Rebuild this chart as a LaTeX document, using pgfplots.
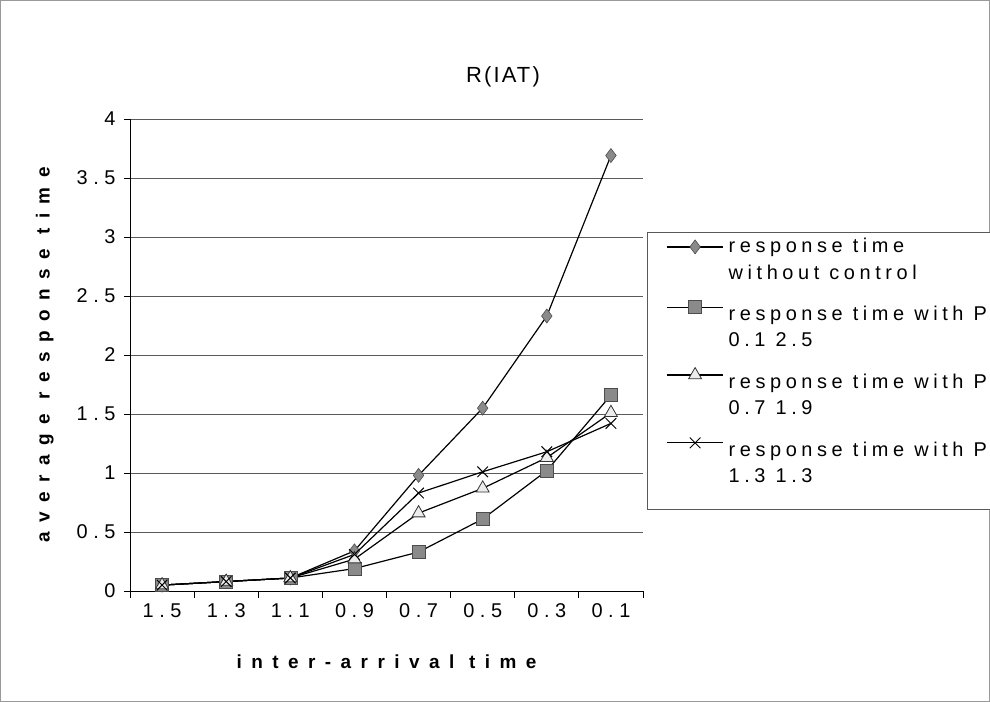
\documentclass[border=0pt]{standalone}
\usepackage{pgfplots}
\pgfplotsset{compat=1.18}
\usepackage{fontspec}
\setmainfont{Liberation Sans}
\newfontfamily\tickfont[LetterSpace=28]{Liberation Sans}
\newfontfamily\legfont[LetterSpace=23]{Liberation Sans}
\newfontfamily\labfont[LetterSpace=50]{Liberation Sans Bold}
\newfontfamily\titfont[LetterSpace=10]{Liberation Sans}

% average response time versus inter-arrival time (x index 0..7 = IAT 1.5 ... 0.1)
\pgfplotstableread{
x y
0 0.05
1 0.08
2 0.11
3 0.34
4 0.98
5 1.55
6 2.33
7 3.69
}\nocontrol
\pgfplotstableread{
x y
0 0.05
1 0.08
2 0.11
3 0.19
4 0.33
5 0.61
6 1.02
7 1.66
}\pA
\pgfplotstableread{
x y
0 0.05
1 0.08
2 0.11
3 0.27
4 0.66
5 0.87
6 1.13
7 1.51
}\pB
\pgfplotstableread{
x y
0 0.05
1 0.08
2 0.11
3 0.31
4 0.83
5 1.01
6 1.18
7 1.42
}\pC

\definecolor{markgray}{HTML}{8A8A8A}
\definecolor{gridgray}{HTML}{5A5A5A}

% legend text lines with fixed width and height: the height sets the gap
% above each line, so the two lines of an entry sit closer than two entries
\newcommand{\legline}[2]{\raisebox{0pt}[#1][0pt]{\makebox[262bp][l]{\hspace*{3bp}#2}}}

% legend sample for the taller rows: its box reaches higher, so the sample
% sits level with the first text line of its entry
\pgfplotsset{lowlegend/.style={legend image code/.code={%
  \path (0bp,-8bp) (0bp,24bp);
  \draw[mark repeat=2, mark phase=2] plot coordinates {(0bp,0bp) (28bp,0bp) (56bp,0bp)};}}}

\begin{document}
\begin{tikzpicture}[x=1bp,y=1bp]
\useasboundingbox (0,0) rectangle (990,702);
\draw[gray!80, line width=0.8bp] (0.6,0.6) rectangle (989.4,701.4);
\begin{axis}[
  at={(130bp,111bp)}, anchor=south west,
  scale only axis, width=513bp, height=472bp,
  xmin=-0.5, xmax=7.5, ymin=0, ymax=4,
  axis x line*=bottom, axis y line*=left,
  axis line style={black, line width=0.9bp},
  xtick={0,...,7},
  xticklabels={1.5,1.3,1.1,0.9,0.7,0.5,0.3,0.1},
  minor xtick={-0.5,0.5,...,7.5},
  major x tick style={draw=none},
  ytick={0,0.5,...,4},
  yticklabels={0,0.5,1,1.5,2,2.5,3,3.5,4},
  tick align=outside,
  major tick length=6bp, minor tick length=7bp,
  tick style={black, line width=0.8bp},
  ymajorgrids,
  major grid style={gridgray, line width=0.9bp},
  /pgf/number format/assume math mode=true,
  tick label style={font=\tickfont\fontsize{20}{22}\selectfont},
  xticklabel style={yshift=-3bp},
  yticklabel style={xshift=-5bp},
  xlabel={inter-arrival time},
  ylabel={average response time},
  label style={font=\labfont\fontsize{19}{22}\selectfont},
  xlabel style={at={(axis description cs:0.5,-0.150)}, anchor=center},
  ylabel style={at={(axis description cs:-0.166,0.5)}, anchor=center},
  title={R(IAT)},
  title style={at={(axis description cs:0.727,1)}, anchor=center, yshift=36bp,
    font=\titfont\fontsize{22}{24}\selectfont},
  legend cell align=left,
  legend style={at={(axis description cs:1.008,0.76)}, anchor=north west,
    draw=gray!70!black, line width=0.8bp,
    font=\legfont\fontsize{20}{24}\selectfont,
    row sep=0bp, inner xsep=19bp, inner ysep=5bp},
  legend image code/.code={%
    \draw[mark repeat=2, mark phase=2] plot coordinates {(0bp,0bp) (28bp,0bp) (56bp,0bp)};},
  every axis plot/.append style={black, line width=1.2bp},
]
\addplot[mark=diamond*, mark size=7bp, mark options={fill=markgray, draw=black!70, line width=0.6bp}] table {\nocontrol};
\addlegendentry{\legline{13bp}{response time}}
\addlegendimage{empty legend}
\addlegendentry{\legline{21bp}{without control}}
\addplot[lowlegend, mark=square*, mark size=6.5bp, mark options={fill=markgray, draw=black!70, line width=0.6bp}] table {\pA};
\addlegendentry{\legline{28bp}{response time with P}}
\addlegendimage{empty legend}
\addlegendentry{\legline{21bp}{0.1 2.5}}
\addplot[lowlegend, mark=triangle*, mark size=7.5bp, mark options={fill=gray!15, draw=black!80, line width=0.8bp}] table {\pB};
\addlegendentry{\legline{28bp}{response time with P}}
\addlegendimage{empty legend}
\addlegendentry{\legline{21bp}{0.7 1.9}}
\addplot[lowlegend, mark=x, mark size=7.5bp, mark options={draw=black, line width=1bp}] table {\pC};
\addlegendentry{\legline{28bp}{response time with P}}
\addlegendimage{empty legend}
\addlegendentry{\legline{21bp}{1.3 1.3}}
\addlegendimage{empty legend}
\addlegendentry{\legline{13bp}{}}
\end{axis}
\end{tikzpicture}
\end{document}
